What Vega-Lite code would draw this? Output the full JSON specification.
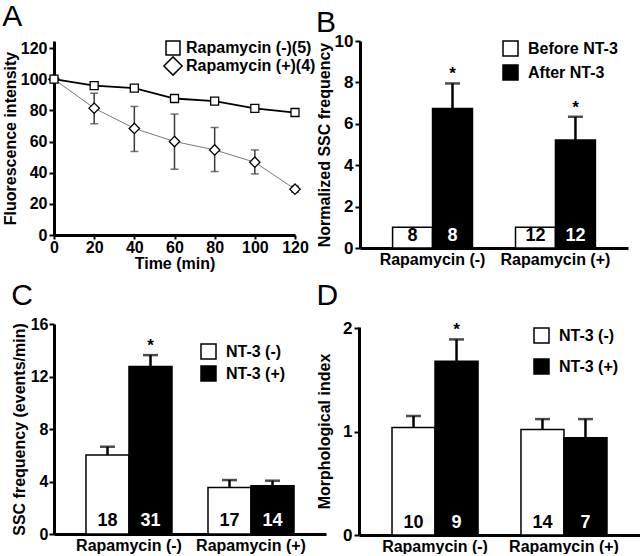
{
  "$schema": "https://vega.github.io/schema/vega-lite/v6.json",
  "padding": {"left": 2, "top": 2, "right": 0, "bottom": 0},
  "background": "white",
  "config": {
    "font": "Liberation Sans",
    "view": {"stroke": null},
    "axis": {"grid": false, "domainColor": "black", "domainWidth": 3, "tickColor": "black", "tickWidth": 2, "tickSize": 5, "labelColor": "black", "labelFontSize": 16, "labelFontWeight": "bold", "titleColor": "black", "titleFontSize": 16, "titleFontWeight": "bold", "labelPadding": 2, "titlePadding": 2, "labelOverlap": false, "labelFlush": false},
    "legend": {"labelFontSize": 16, "labelFontWeight": "bold", "labelColor": "black", "symbolStrokeColor": "black", "symbolStrokeWidth": 1.5},
    "title": {"fontSize": 30, "fontWeight": "normal", "anchor": "start", "frame": "bounds", "color": "black"}
  },
  "columns": 2,
  "align": "none",
  "spacing": {"row": 10, "column": -10},
  "resolve": {"scale": {"color": "independent", "shape": "independent", "xOffset": "independent"}},
  "concat": [
    {
      "title": {"text": "A", "offset": 8},
      "width": 241,
      "height": 194,
      "data": {"values": [
        {"t": 0, "series": "Rapamycin (+)(4)", "mean": 100},
        {"t": 20, "series": "Rapamycin (+)(4)", "mean": 81.4, "lo": 71.4, "hi": 91},
        {"t": 40, "series": "Rapamycin (+)(4)", "mean": 68.4, "lo": 53.6, "hi": 82.5},
        {"t": 60, "series": "Rapamycin (+)(4)", "mean": 60, "lo": 42.2, "hi": 77.6},
        {"t": 80, "series": "Rapamycin (+)(4)", "mean": 54.6, "lo": 40.7, "hi": 69},
        {"t": 100, "series": "Rapamycin (+)(4)", "mean": 46.7, "lo": 39.2, "hi": 54.6},
        {"t": 120, "series": "Rapamycin (+)(4)", "mean": 29.4, "lo": 27.5, "hi": 31.3},
        {"t": 0, "series": "Rapamycin (-)(5)", "mean": 100},
        {"t": 20, "series": "Rapamycin (-)(5)", "mean": 95.8},
        {"t": 40, "series": "Rapamycin (-)(5)", "mean": 94.3},
        {"t": 60, "series": "Rapamycin (-)(5)", "mean": 87.6},
        {"t": 80, "series": "Rapamycin (-)(5)", "mean": 85.9},
        {"t": 100, "series": "Rapamycin (-)(5)", "mean": 81.2},
        {"t": 120, "series": "Rapamycin (-)(5)", "mean": 78.6}
      ]},
      "encoding": {
        "x": {"field": "t", "type": "quantitative", "scale": {"domain": [0, 120], "nice": false}, "axis": {"values": [0, 20, 40, 60, 80, 100, 120], "title": "Time (min)", "labelPadding": 0, "titlePadding": 0, "tickSize": 4}},
        "y": {"field": "mean", "type": "quantitative", "scale": {"domain": [0, 124.5], "nice": false}, "axis": {"values": [0, 20, 40, 60, 80, 100, 120]}, "title": "Fluorescence intensity"}
      },
      "layer": [
        {
          "transform": [{"filter": "datum.series === 'Rapamycin (+)(4)'"}],
          "mark": {"type": "line", "color": "#7a7a7a", "strokeWidth": 1}
        },
        {
          "transform": [{"filter": "datum.series === 'Rapamycin (-)(5)'"}],
          "mark": {"type": "line", "color": "black", "strokeWidth": 1.8}
        },
        {
          "transform": [{"filter": "isValid(datum.lo)"}],
          "mark": {"type": "rule", "color": "#3a3a3a", "strokeWidth": 1.5},
          "encoding": {
            "y": {"field": "lo", "type": "quantitative", "scale": {"domain": [0, 124.5], "nice": false}, "axis": {"values": [0, 20, 40, 60, 80, 100, 120]}, "title": "Fluorescence intensity"},
            "y2": {"field": "hi"}
          }
        },
        {
          "transform": [{"filter": "isValid(datum.lo)"}],
          "mark": {"type": "tick", "orient": "horizontal", "color": "#3a3a3a", "size": 8, "thickness": 1.5},
          "encoding": {"y": {"field": "lo", "type": "quantitative", "scale": {"domain": [0, 124.5], "nice": false}, "axis": {"values": [0, 20, 40, 60, 80, 100, 120]}, "title": "Fluorescence intensity"}}
        },
        {
          "transform": [{"filter": "isValid(datum.hi)"}],
          "mark": {"type": "tick", "orient": "horizontal", "color": "#3a3a3a", "size": 8, "thickness": 1.5},
          "encoding": {"y": {"field": "hi", "type": "quantitative", "scale": {"domain": [0, 124.5], "nice": false}, "axis": {"values": [0, 20, 40, 60, 80, 100, 120]}, "title": "Fluorescence intensity"}}
        },
        {
          "mark": {"type": "point", "filled": false, "fill": "white", "strokeWidth": 1.3, "size": 64, "opacity": 1},
          "encoding": {
            "color": {"field": "series", "type": "nominal", "scale": {"domain": ["Rapamycin (-)(5)", "Rapamycin (+)(4)"], "range": ["black", "black"]},
              "legend": {"title": null, "orient": "none", "legendX": 111, "legendY": -1, "symbolSize": 196, "symbolFillColor": "white", "symbolStrokeWidth": 1.5, "labelOffset": 5, "rowPadding": -5}},
            "shape": {"field": "series", "type": "nominal", "scale": {"domain": ["Rapamycin (-)(5)", "Rapamycin (+)(4)"], "range": ["square", "M0,-1.3L1.3,0L0,1.3L-1.3,0Z"]},
              "legend": {"title": null, "orient": "none", "legendX": 111, "legendY": -1, "symbolSize": 196, "symbolFillColor": "white", "symbolStrokeWidth": 1.5, "labelOffset": 5, "rowPadding": -5}}
          }
        }
      ]
    },
    {
      "title": {"text": "B", "offset": -6},
      "width": 268,
      "height": 207,
      "data": {"values": [
        {"group": "Rapamycin (-)", "cond": "Before NT-3", "value": 1.0, "n": 8},
        {"group": "Rapamycin (-)", "cond": "After NT-3", "value": 6.74, "err": 7.95, "star": "*", "n": 8},
        {"group": "Rapamycin (+)", "cond": "Before NT-3", "value": 1.0, "n": 12},
        {"group": "Rapamycin (+)", "cond": "After NT-3", "value": 5.22, "err": 6.34, "star": "*", "n": 12}
      ]},
      "encoding": {
        "x": {"field": "group", "type": "nominal", "sort": ["Rapamycin (-)", "Rapamycin (+)"], "scale": {"paddingInner": 0.35, "paddingOuter": 0.265}, "axis": {"title": null, "labelAngle": 0, "ticks": false, "labelFontSize": 16, "labelPadding": 3}},
        "xOffset": {"field": "cond", "type": "nominal", "sort": ["Before NT-3", "After NT-3"], "scale": {"paddingInner": 0, "paddingOuter": 0}}
      },
      "layer": [
        {
          "mark": {"type": "bar", "stroke": "black", "strokeWidth": 1.5},
          "encoding": {
            "y": {"field": "value", "type": "quantitative", "title": "Normalized SSC frequency", "scale": {"domain": [0, 10], "nice": false}, "axis": {"values": [0, 2, 4, 6, 8, 10], "labelFontSize": 17}},
            "color": {"field": "cond", "type": "nominal", "scale": {"domain": ["Before NT-3", "After NT-3"], "range": ["white", "black"]},
              "legend": {"title": null, "orient": "none", "legendX": 142, "legendY": -1, "symbolType": "square", "symbolSize": 225, "labelOffset": 9, "rowPadding": 3}}
          }
        },
        {
          "transform": [{"filter": "isValid(datum.err)"}],
          "mark": {"type": "rule", "color": "black", "strokeWidth": 2.5},
          "encoding": {"y": {"field": "value", "type": "quantitative", "title": "Normalized SSC frequency", "scale": {"domain": [0, 10], "nice": false}, "axis": {"values": [0, 2, 4, 6, 8, 10], "labelFontSize": 17}}, "y2": {"field": "err"}}
        },
        {
          "transform": [{"filter": "isValid(datum.err)"}],
          "mark": {"type": "tick", "orient": "horizontal", "color": "black", "size": 15, "thickness": 2.5},
          "encoding": {"y": {"field": "err", "type": "quantitative", "title": "Normalized SSC frequency", "scale": {"domain": [0, 10], "nice": false}, "axis": {"values": [0, 2, 4, 6, 8, 10], "labelFontSize": 17}}}
        },
        {
          "transform": [{"filter": "isValid(datum.star)"}],
          "mark": {"type": "text", "baseline": "bottom", "fontSize": 17, "fontWeight": "bold", "color": "black"},
          "encoding": {"y": {"field": "err", "type": "quantitative", "title": "Normalized SSC frequency", "scale": {"domain": [0, 10], "nice": false}, "axis": {"values": [0, 2, 4, 6, 8, 10], "labelFontSize": 17}}, "text": {"field": "star"}}
        },
        {
          "mark": {"type": "text", "baseline": "bottom", "dy": -3, "fontSize": 18, "fontWeight": "bold"},
          "encoding": {
            "y": {"datum": 0, "type": "quantitative", "title": "Normalized SSC frequency", "scale": {"domain": [0, 10], "nice": false}, "axis": {"values": [0, 2, 4, 6, 8, 10], "labelFontSize": 17}},
            "text": {"field": "n"},
            "color": {"condition": {"test": "datum.cond === 'After NT-3'", "value": "white"}, "value": "black"}
          }
        }
      ]
    },
    {
      "title": {"text": "C", "offset": 5},
      "width": 272,
      "height": 210,
      "data": {"values": [
        {"group": "Rapamycin (-)", "cond": "NT-3 (-)", "value": 6.02, "err": 6.65, "n": 18},
        {"group": "Rapamycin (-)", "cond": "NT-3 (+)", "value": 12.77, "err": 13.63, "star": "*", "n": 31},
        {"group": "Rapamycin (+)", "cond": "NT-3 (-)", "value": 3.55, "err": 4.11, "n": 17},
        {"group": "Rapamycin (+)", "cond": "NT-3 (+)", "value": 3.68, "err": 4.06, "n": 14}
      ]},
      "encoding": {
        "x": {"field": "group", "type": "nominal", "sort": ["Rapamycin (-)", "Rapamycin (+)"], "scale": {"paddingInner": 0.295, "paddingOuter": 0.262}, "axis": {"title": null, "labelAngle": 0, "ticks": false, "labelFontSize": 16, "labelPadding": 3}},
        "xOffset": {"field": "cond", "type": "nominal", "sort": ["NT-3 (-)", "NT-3 (+)"], "scale": {"paddingInner": 0, "paddingOuter": 0}}
      },
      "layer": [
        {
          "mark": {"type": "bar", "stroke": "black", "strokeWidth": 1.5},
          "encoding": {
            "y": {"field": "value", "type": "quantitative", "title": "SSC frequency (events/min)", "scale": {"domain": [0, 16], "nice": false}, "axis": {"values": [0, 4, 8, 12, 16], "labelPadding": 1, "titlePadding": 3}},
            "color": {"field": "cond", "type": "nominal", "scale": {"domain": ["NT-3 (-)", "NT-3 (+)"], "range": ["white", "black"]},
              "legend": {"title": null, "orient": "none", "legendX": 146, "legendY": 19, "symbolType": "square", "symbolSize": 225, "labelOffset": 9, "rowPadding": 1}}
          }
        },
        {
          "mark": {"type": "rule", "color": "black", "strokeWidth": 2.5},
          "encoding": {"y": {"field": "value", "type": "quantitative", "title": "SSC frequency (events/min)", "scale": {"domain": [0, 16], "nice": false}, "axis": {"values": [0, 4, 8, 12, 16], "labelPadding": 1, "titlePadding": 3}}, "y2": {"field": "err"}}
        },
        {
          "mark": {"type": "tick", "orient": "horizontal", "color": "black", "size": 15, "thickness": 2.5},
          "encoding": {"y": {"field": "err", "type": "quantitative", "title": "SSC frequency (events/min)", "scale": {"domain": [0, 16], "nice": false}, "axis": {"values": [0, 4, 8, 12, 16], "labelPadding": 1, "titlePadding": 3}}}
        },
        {
          "transform": [{"filter": "isValid(datum.star)"}],
          "mark": {"type": "text", "baseline": "bottom", "fontSize": 17, "fontWeight": "bold", "color": "black"},
          "encoding": {"y": {"field": "err", "type": "quantitative", "title": "SSC frequency (events/min)", "scale": {"domain": [0, 16], "nice": false}, "axis": {"values": [0, 4, 8, 12, 16], "labelPadding": 1, "titlePadding": 3}}, "text": {"field": "star"}}
        },
        {
          "mark": {"type": "text", "baseline": "bottom", "dy": -4, "fontSize": 18, "fontWeight": "bold"},
          "encoding": {
            "y": {"datum": 0, "type": "quantitative", "title": "SSC frequency (events/min)", "scale": {"domain": [0, 16], "nice": false}, "axis": {"values": [0, 4, 8, 12, 16], "labelPadding": 1, "titlePadding": 3}},
            "text": {"field": "n"},
            "color": {"condition": {"test": "datum.cond === 'NT-3 (+)'", "value": "white"}, "value": "black"}
          }
        }
      ]
    },
    {
      "title": {"text": "D", "offset": 8},
      "width": 281,
      "height": 208,
      "data": {"values": [
        {"group": "Rapamycin (-)", "cond": "NT-3 (-)", "value": 1.04, "err": 1.15, "n": 10},
        {"group": "Rapamycin (-)", "cond": "NT-3 (+)", "value": 1.68, "err": 1.89, "star": "*", "n": 9},
        {"group": "Rapamycin (+)", "cond": "NT-3 (-)", "value": 1.02, "err": 1.12, "n": 14},
        {"group": "Rapamycin (+)", "cond": "NT-3 (+)", "value": 0.94, "err": 1.12, "n": 7}
      ]},
      "encoding": {
        "x": {"field": "group", "type": "nominal", "sort": ["Rapamycin (-)", "Rapamycin (+)"], "scale": {"paddingInner": 0.333, "paddingOuter": 0.256}, "axis": {"title": null, "labelAngle": 0, "ticks": false, "labelFontSize": 16, "labelPadding": 3}},
        "xOffset": {"field": "cond", "type": "nominal", "sort": ["NT-3 (-)", "NT-3 (+)"], "scale": {"paddingInner": 0, "paddingOuter": 0}}
      },
      "layer": [
        {
          "mark": {"type": "bar", "stroke": "black", "strokeWidth": 1.5},
          "encoding": {
            "y": {"field": "value", "type": "quantitative", "title": "Morphological index", "scale": {"domain": [0, 2.01], "nice": false}, "axis": {"values": [0, 1, 2], "format": ".0f", "labelFontSize": 17, "titlePadding": 10}},
            "color": {"field": "cond", "type": "nominal", "scale": {"domain": ["NT-3 (-)", "NT-3 (+)"], "range": ["white", "black"]},
              "legend": {"title": null, "orient": "none", "legendX": 174, "legendY": 0, "symbolType": "square", "symbolSize": 225, "labelOffset": 9, "rowPadding": 10}}
          }
        },
        {
          "mark": {"type": "rule", "color": "black", "strokeWidth": 2.5},
          "encoding": {"y": {"field": "value", "type": "quantitative", "title": "Morphological index", "scale": {"domain": [0, 2.01], "nice": false}, "axis": {"values": [0, 1, 2], "format": ".0f", "labelFontSize": 17, "titlePadding": 10}}, "y2": {"field": "err"}}
        },
        {
          "mark": {"type": "tick", "orient": "horizontal", "color": "black", "size": 15, "thickness": 2.5},
          "encoding": {"y": {"field": "err", "type": "quantitative", "title": "Morphological index", "scale": {"domain": [0, 2.01], "nice": false}, "axis": {"values": [0, 1, 2], "format": ".0f", "labelFontSize": 17, "titlePadding": 10}}}
        },
        {
          "transform": [{"filter": "isValid(datum.star)"}],
          "mark": {"type": "text", "baseline": "bottom", "fontSize": 17, "fontWeight": "bold", "color": "black"},
          "encoding": {"y": {"field": "err", "type": "quantitative", "title": "Morphological index", "scale": {"domain": [0, 2.01], "nice": false}, "axis": {"values": [0, 1, 2], "format": ".0f", "labelFontSize": 17, "titlePadding": 10}}, "text": {"field": "star"}}
        },
        {
          "mark": {"type": "text", "baseline": "bottom", "dy": -3, "fontSize": 18, "fontWeight": "bold"},
          "encoding": {
            "y": {"datum": 0, "type": "quantitative", "title": "Morphological index", "scale": {"domain": [0, 2.01], "nice": false}, "axis": {"values": [0, 1, 2], "format": ".0f", "labelFontSize": 17, "titlePadding": 10}},
            "text": {"field": "n"},
            "color": {"condition": {"test": "datum.cond === 'NT-3 (+)'", "value": "white"}, "value": "black"}
          }
        }
      ]
    }
  ]
}
